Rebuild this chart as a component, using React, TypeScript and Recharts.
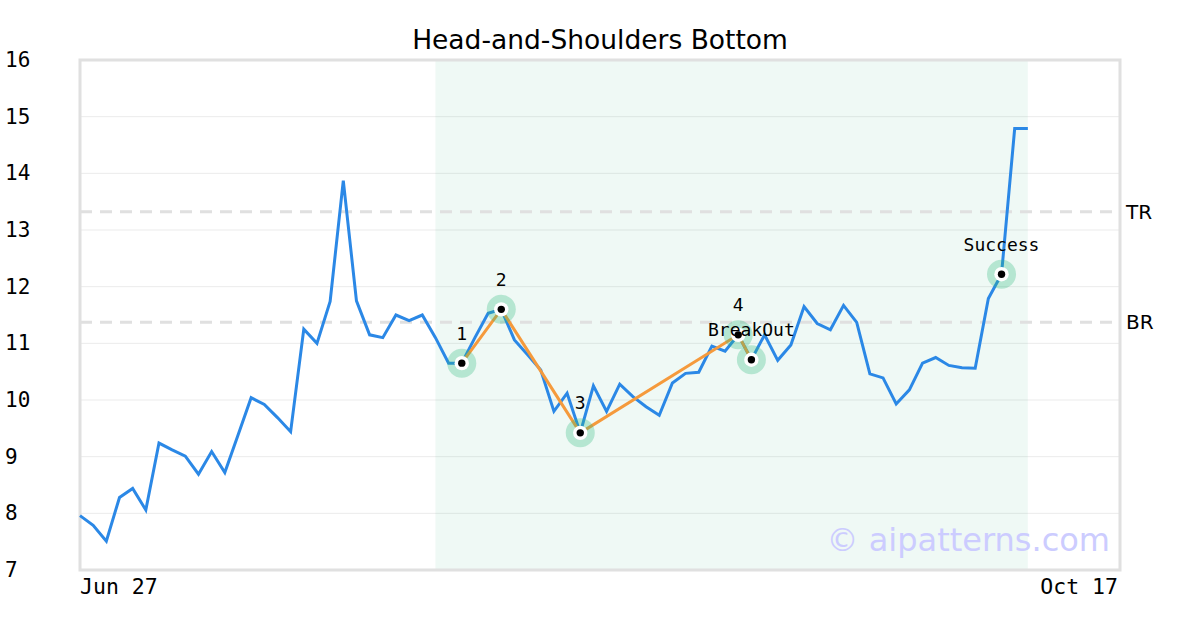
import React from 'react';
import { ComposedChart, Line, Scatter, XAxis, YAxis, CartesianGrid, ReferenceArea, ReferenceLine } from 'recharts';

// closing prices, one per trading session from Jun 27
const prices = [
  7.96, 7.79, 7.51, 8.28, 8.44, 8.06, 9.24, 9.12, 9.01, 8.69,
  9.09, 8.72, 9.38, 10.04, 9.92, 9.69, 9.44, 11.25, 11.0, 11.74,
  13.87, 11.75, 11.15, 11.1, 11.5, 11.4, 11.5, 11.1, 10.65, 10.65,
  11.1, 11.53, 11.6, 11.06, 10.8, 10.53, 9.8, 10.12, 9.42, 10.25,
  9.8, 10.28, 10.06, 9.88, 9.73, 10.3, 10.47, 10.49, 10.95, 10.86,
  11.15, 10.71, 11.15, 10.7, 10.97, 11.65, 11.35, 11.24, 11.67, 11.37,
  10.46, 10.39, 9.93, 10.18, 10.65, 10.75, 10.61, 10.57, 10.56, 11.79,
  12.22, 14.79, 14.79,
];

// pattern pivots: index into prices, label
const pivotIdx = [29, 32, 38, 50, 51, 70];
const pivotLabels = ['1', '2', '3', '4', 'BreakOut', 'Success'];
const patternIdx = [29, 32, 38, 50, 51]; // orange zig-zag

const xTicks = [0, 79];
const xTickLabels = ['Jun 27', 'Oct 17'];
const yTicks = [7, 8, 9, 10, 11, 12, 13, 14, 15, 16];

const resistanceTop = 13.32;
const resistanceBottom = 11.37;
const shadeStart = 27;
const shadeEnd = 72;

const data = prices.map((p, i) => ({
  i,
  price: p,
  pattern: patternIdx.includes(i) ? p : null,
}));

const markers = pivotIdx.map((idx, k) => ({ i: idx, v: prices[idx], label: pivotLabels[k] }));

const mono = '"DejaVu Sans Mono", monospace';
const sans = '"DejaVu Sans", sans-serif';

const YTick = (props: any) => (
  <text x={5} y={props.y} dominantBaseline="central" fontFamily={mono} fontSize={21} fill="#000">
    {props.payload.value}
  </text>
);

const XTick = (props: any) => {
  const k = xTicks.indexOf(props.payload.value);
  return (
    <text
      x={k === 0 ? props.x : props.x - 2}
      y={594}
      textAnchor={k === 0 ? 'start' : 'end'}
      fontFamily={mono}
      fontSize={21.5}
      fill="#000"
    >
      {xTickLabels[k]}
    </text>
  );
};

const Marker = (props: any) => {
  const { cx, cy, payload } = props;
  return (
    <g>
      <circle cx={cx} cy={cy} r={14.5} fill="rgba(45,185,125,0.3)" />
      <circle cx={cx} cy={cy} r={7.2} fill="#fff" />
      <circle cx={cx} cy={cy} r={3.7} fill="#000" />
      <text x={cx} y={cy - 30} textAnchor="middle" dominantBaseline="central" fontFamily={mono} fontSize={18} fill="#000">
        {payload.label}
      </text>
    </g>
  );
};

export default function App() {
  return (
    <div style={{ position: 'absolute', left: 0, top: 0, width: 1200, height: 630, background: '#fff' }}>
      <div style={{ position: 'absolute', left: 0, top: 24, width: 1200, textAlign: 'center', fontFamily: sans, fontSize: 26.5, lineHeight: '32px', color: '#000' }}>
        Head-and-Shoulders Bottom
      </div>
      <ComposedChart width={1200} height={630} data={data} margin={{ top: 60, right: 80, left: 0, bottom: 20 }}>
        <CartesianGrid vertical={false} stroke="#ebebeb" strokeWidth={1} />
        <XAxis
          dataKey="i"
          type="number"
          domain={[0, 79]}
          ticks={xTicks}
          tick={<XTick />}
          tickLine={false}
          axisLine={false}
          height={40}
          interval={0}
        />
        <YAxis
          type="number"
          domain={[7, 16]}
          ticks={yTicks}
          tick={<YTick />}
          tickLine={false}
          axisLine={false}
          width={80}
          interval={0}
        />
        <ReferenceArea x1={shadeStart} x2={shadeEnd} y1={7} y2={16} fill="#2db37d" fillOpacity={0.08} stroke="none" />
        <ReferenceArea x1={0} x2={79} y1={7} y2={16} fill="none" stroke="#e0e0e0" strokeWidth={3} />
        <ReferenceLine
          y={resistanceTop}
          stroke="#e0e0e0"
          strokeWidth={3}
          strokeDasharray="12 8"
          label={{ value: 'TR', position: 'right', offset: 6, fill: '#000', fontSize: 20, fontFamily: sans }}
        />
        <ReferenceLine
          y={resistanceBottom}
          stroke="#e0e0e0"
          strokeWidth={3}
          strokeDasharray="12 8"
          label={{ value: 'BR', position: 'right', offset: 6, fill: '#000', fontSize: 20, fontFamily: sans }}
        />
        <Line type="linear" dataKey="price" stroke="#2b88e6" strokeWidth={3} dot={false} isAnimationActive={false} />
        <Line type="linear" dataKey="pattern" stroke="#f59a3c" strokeWidth={3} dot={false} connectNulls isAnimationActive={false} />
        <Scatter data={markers} dataKey="v" shape={<Marker />} isAnimationActive={false} />
      </ComposedChart>
      <div style={{ position: 'absolute', right: 90, top: 520, fontFamily: sans, fontSize: 32, lineHeight: '40px', color: '#ccccff' }}>
        © aipatterns.com
      </div>
    </div>
  );
}
